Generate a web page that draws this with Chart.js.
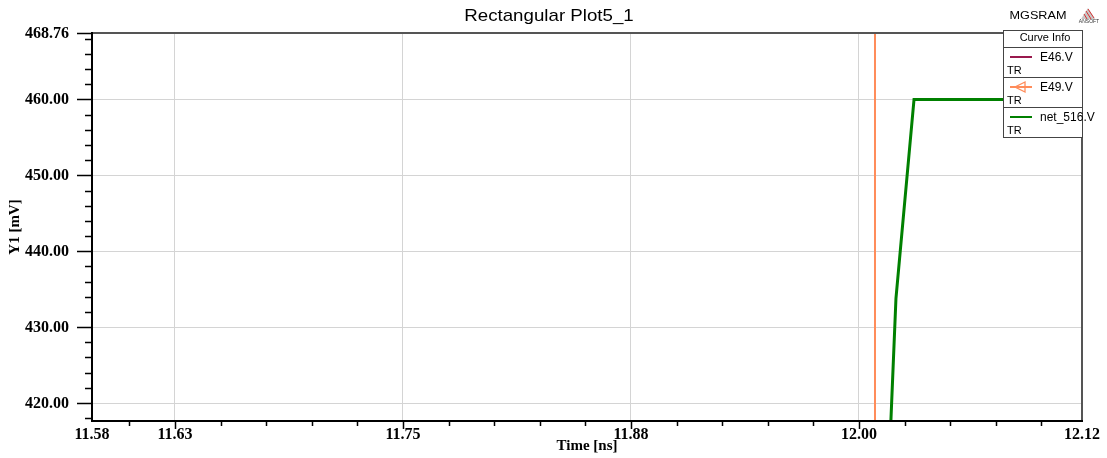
<!DOCTYPE html>
<html>
<head>
<meta charset="utf-8">
<script src="https://cdn.jsdelivr.net/npm/chart.js@4.4.0/dist/chart.umd.min.js"></script>
<style>
html, body { margin: 0; padding: 0; background: #fff; }
#wrap { width: 1107px; height: 458px; }
</style>
</head>
<body>
<div id="wrap"><canvas id="myChart" width="1107" height="458"></canvas></div>
<script>
//Data
const seriesNames = ['E46.V', 'E49.V', 'net_516.V'];
const e46Time = [];
const e46Val = [];
const e49Time = [12.0088, 12.0088];
const e49Val = [400, 480];
const netTime = [12.0162, 12.0203, 12.0302, 12.1223];
const netVal = [410, 433.8, 460, 460];

//Axis range and tick labels
const xMin = 11.5795, xMax = 12.1223;
const yMin = 417.63, yMax = 468.76;
const xTickVals = [11.5795, 11.625, 11.75, 11.875, 12.0, 12.1223];
const xTickLabels = ['11.58', '11.63', '11.75', '11.88', '12.00', '12.12'];
const yTickVals = [420, 430, 440, 450, 460, 468.76];
const yTickLabels = ['420.00', '430.00', '440.00', '450.00', '460.00', '468.76'];
const xMinorStep = 0.025;
const yMinorStep = 2;

const colors = ['#99194d', '#ff8c5a', '#008000'];
const widths = [2, 2, 3];

function pts(t, v) {
    return t.map((x, i) => ({ x: x, y: v[i] }));
}

const serif = '"Liberation Serif", "Times New Roman", serif';
const sans = '"Liberation Sans", Arial, sans-serif';

//text helper, sx = horizontal stretch (the sans text in the original is a bit wide)
function sText(c, str, x, y, align, font, sx) {
    c.save();
    c.translate(x, y);
    c.scale(sx || 1, 1);
    c.font = font;
    c.textAlign = align;
    c.textBaseline = 'middle';
    c.fillText(str, 0, 0);
    c.restore();
}

//Own drawing: borders, tick marks, labels, titles, the curve info box
const decor = {
    id: 'decor',
    beforeDraw(chart) {
        const c = chart.ctx;
        c.save();
        c.fillStyle = '#fff';
        c.fillRect(0, 0, chart.width, chart.height);
        c.restore();
    },
    afterDraw(chart) {
        const c = chart.ctx;
        const a = chart.chartArea;
        const xs = chart.scales.x, ys = chart.scales.y;
        c.save();

        //frame
        c.strokeStyle = '#555';
        c.lineWidth = 2;
        c.beginPath();
        c.moveTo(a.left, a.top); c.lineTo(a.right, a.top); c.lineTo(a.right, a.bottom);
        c.stroke();
        c.strokeStyle = '#000';
        c.beginPath();
        c.moveTo(a.left, a.top - 1); c.lineTo(a.left, a.bottom); c.lineTo(a.right + 1, a.bottom);
        c.stroke();

        //tick marks
        c.lineWidth = 1.5;
        c.beginPath();
        for (let v = 11.6; v < xMax - 0.001; v += xMinorStep) {
            const px = Math.round(xs.getPixelForValue(v)) + 0.5;
            const major = xTickVals.some(t => Math.abs(t - v) < 0.002);
            c.moveTo(px, a.bottom); c.lineTo(px, a.bottom + (major ? 8 : 5));
        }
        for (let v = 418; v < yMax; v += yMinorStep) {
            const py = Math.round(ys.getPixelForValue(v)) + 0.5;
            const major = v % 10 === 0;
            c.moveTo(a.left, py); c.lineTo(a.left - (major ? 15 : 7), py);
        }
        const pyTop = Math.round(ys.getPixelForValue(yMax)) + 0.5;
        c.moveTo(a.left, pyTop); c.lineTo(a.left - 15, pyTop);
        c.stroke();

        //tick labels
        c.fillStyle = '#000';
        const tickFont = 'bold 16px ' + serif;
        xTickVals.forEach((v, i) => sText(c, xTickLabels[i], xs.getPixelForValue(v), 435, 'center', tickFont));
        yTickVals.forEach((v, i) => sText(c, yTickLabels[i], 69, ys.getPixelForValue(v) + 0.5, 'right', tickFont));

        //axis titles
        sText(c, 'Time [ns]', (a.left + a.right) / 2, 446, 'center', 'bold 15px ' + serif);
        c.save();
        c.translate(15, (a.top + a.bottom) / 2);
        c.rotate(-Math.PI / 2);
        c.font = 'bold 15px ' + serif;
        c.textAlign = 'center';
        c.textBaseline = 'middle';
        c.fillText('Y1 [mV]', 0, 0);
        c.restore();

        //chart title
        sText(c, 'Rectangular Plot5_1', 549, 16, 'center', '17px ' + sans, 1.1);
        sText(c, 'MGSRAM', 1038, 16, 'center', '11.5px ' + sans, 1.1);

        //small logo
        c.fillStyle = '#c8c8c8';
        c.beginPath();
        c.moveTo(1088, 8); c.lineTo(1095, 19); c.lineTo(1081, 19); c.closePath();
        c.fill();
        c.strokeStyle = '#d83030';
        c.lineWidth = 1;
        c.beginPath();
        c.moveTo(1086, 11); c.lineTo(1091, 19);
        c.moveTo(1084, 14); c.lineTo(1087, 19);
        c.moveTo(1088, 9); c.lineTo(1094, 18);
        c.stroke();
        c.fillStyle = '#333';
        sText(c, 'ANSOFT', 1089, 22, 'center', '5px ' + sans);

        //curve info box
        const bx = 1003, by = 30, bw = 79, bh = 107;
        c.fillStyle = '#fff';
        c.fillRect(bx, by, bw, bh);
        c.strokeStyle = '#444';
        c.lineWidth = 1;
        c.strokeRect(bx + 0.5, by + 0.5, bw, bh);
        c.beginPath();
        [47.5, 77.5, 107.5].forEach(y => { c.moveTo(bx, y); c.lineTo(bx + bw, y); });
        c.stroke();
        c.fillStyle = '#000';
        sText(c, 'Curve Info', 1045, 38.5, 'center', '10px ' + sans, 1.1);
        chart.data.datasets.forEach((ds, i) => {
            const ly = 57 + i * 30;
            c.strokeStyle = ds.borderColor;
            c.lineWidth = 2;
            c.beginPath();
            c.moveTo(1010, ly); c.lineTo(1032, ly);
            c.stroke();
            if (i === 1) {
                c.lineWidth = 1.3;
                c.beginPath();
                c.moveTo(1025, ly - 5); c.lineTo(1015, ly); c.lineTo(1025, ly + 5); c.closePath();
                c.stroke();
            }
            c.fillStyle = '#000';
            sText(c, ds.label, 1040, ly + 1, 'left', '12px ' + sans);
            sText(c, 'TR', 1007, ly + 14, 'left', '11px ' + sans);
        });
        c.restore();
    }
};

const gridColor = (min, max) => (ctx) => {
    const v = ctx.tick ? ctx.tick.value : null;
    if (v === null || Math.abs(v - min) < 1e-6 || Math.abs(v - max) < 1e-6) return 'rgba(0,0,0,0)';
    return '#d4d4d4';
};

const config = {
    type: 'scatter',
    data: {
        datasets: [
            { label: seriesNames[0], data: pts(e46Time, e46Val), borderColor: colors[0], borderWidth: widths[0] },
            { label: seriesNames[1], data: pts(e49Time, e49Val), borderColor: colors[1], borderWidth: widths[1] },
            { label: seriesNames[2], data: pts(netTime, netVal), borderColor: colors[2], borderWidth: widths[2] }
        ].map(d => Object.assign(d, { showLine: true, pointRadius: 0, tension: 0, backgroundColor: d.borderColor }))
    },
    options: {
        responsive: false,
        animation: false,
        layout: { padding: { top: 33, right: 25, left: 0, bottom: 0 } },
        plugins: { legend: { display: false }, tooltip: { enabled: false }, title: { display: false } },
        scales: {
            x: {
                type: 'linear',
                min: xMin, max: xMax,
                afterBuildTicks: s => { s.ticks = xTickVals.map(v => ({ value: v })); },
                afterFit: s => { s.height = 37; },
                grid: { color: gridColor(xMin, xMax), drawTicks: false, lineWidth: 1 },
                border: { display: false },
                ticks: { display: false }
            },
            y: {
                type: 'linear',
                min: yMin, max: yMax,
                afterBuildTicks: s => { s.ticks = yTickVals.map(v => ({ value: v })); },
                afterFit: s => { s.width = 92; },
                grid: { color: gridColor(yMin, yMax), drawTicks: false, lineWidth: 1 },
                border: { display: false },
                ticks: { display: false }
            }
        }
    },
    plugins: [decor]
};

const myChart = new Chart(document.getElementById('myChart'), config);
</script>
</body>
</html>
